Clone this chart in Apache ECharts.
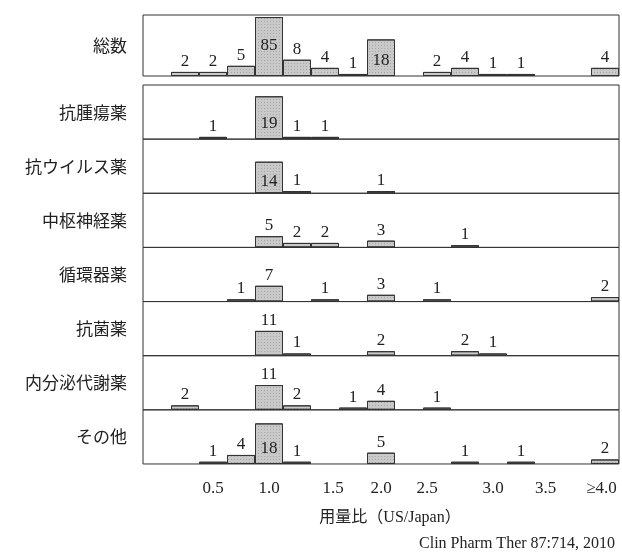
<!DOCTYPE html>
<html>
<head>
<meta charset="utf-8">
<script src="https://cdn.jsdelivr.net/npm/echarts@6/dist/echarts.min.js"></script>
<style>
  html, body { margin: 0; padding: 0; background: #fff; }
  #main { width: 622px; height: 554px; }
</style>
</head>
<body>
<div id="main"></div>
<script>
// bins of 0.25 along the ratio US/Japan, last bin is >=4.0
var bins = ['b0','b1','b2','b3','b4','b5','b6','b7','b8','b9','b10','b11','b12','b13','b14','b15','b16'];
var tickLabels = ['', '', '0.5', '', '1.0', '', '1.5', '', '2.0', '', '2.5', '', '3.0', '', '3.5', '', '≥4.0'];

var panelNames = ['総数', '抗腫瘍薬', '抗ウイルス薬', '中枢神経薬', '循環器薬', '抗菌薬', '内分泌代謝薬', 'その他'];

var total      = [0, 2, 2, 5, 85, 8, 4, 1, 18, 0, 2, 4, 1, 1, 0, 0, 4];
var antitumor  = [0, 0, 1, 0, 19, 1, 1, 0, 0, 0, 0, 0, 0, 0, 0, 0, 0];
var antiviral  = [0, 0, 0, 0, 14, 1, 0, 0, 1, 0, 0, 0, 0, 0, 0, 0, 0];
var cns        = [0, 0, 0, 0, 5, 2, 2, 0, 3, 0, 0, 1, 0, 0, 0, 0, 0];
var cardio     = [0, 0, 0, 1, 7, 0, 1, 0, 3, 0, 1, 0, 0, 0, 0, 0, 2];
var antibac    = [0, 0, 0, 0, 11, 1, 0, 0, 2, 0, 0, 2, 1, 0, 0, 0, 0];
var endocrine  = [0, 2, 0, 0, 11, 2, 0, 1, 4, 0, 1, 0, 0, 0, 0, 0, 0];
var others     = [0, 0, 1, 4, 18, 1, 0, 0, 5, 0, 0, 1, 0, 1, 0, 0, 2];

var panels = [total, antitumor, antiviral, cns, cardio, antibac, endocrine, others];

var serif = "'Liberation Serif', 'Noto Sans CJK JP', serif";
var sans = "'Noto Sans CJK JP', sans-serif";

var left = 143, width = 476;
var grids = [], xAxes = [], yAxes = [], series = [], titles = [];

panels.forEach(function (vals, i) {
    var top, h;
    if (i === 0) { top = 15; h = 61; }
    else { h = 54.14; top = 85 + (i - 1) * h; }
    grids.push({
        left: left, width: width, top: top, height: h,
        show: true, borderColor: '#333', borderWidth: 1, backgroundColor: 'transparent'
    });
    var last = i === panels.length - 1;
    xAxes.push({
        type: 'category', gridIndex: i, data: bins,
        axisLine: { show: false }, axisTick: { show: false }, splitLine: { show: false },
        axisLabel: {
            show: last, interval: 0, margin: 16,
            fontFamily: serif, fontSize: 17, color: '#222',
            formatter: function (v, idx) {
                var t = tickLabels[idx];
                if (!t) return '';
                if (t === '1.5') return '{r|' + t + '}';
                if (t === '2.5') return '{l|' + t + '}';
                if (t === '3.5' || t === '≥4.0') return '{s|' + t + '}';
                return t;
            },
            rich: {
                r: { fontFamily: serif, fontSize: 17, color: '#222', padding: [0, 0, 0, 16] },
                l: { fontFamily: serif, fontSize: 17, color: '#222', padding: [0, 20, 0, 0] },
                s: { fontFamily: serif, fontSize: 17, color: '#222', padding: [0, 7, 0, 0] }
            }
        },
        name: last ? '用量比（US/Japan）' : '',
        nameLocation: 'middle', nameGap: 46,
        nameTextStyle: { fontFamily: serif, fontSize: 16, color: '#222', padding: [0, 0, 0, 18] }
    });
    var y = { type: 'value', gridIndex: i, show: false, min: 0, max: 24, splitLine: { show: false } };
    if (i === 0) {
        y.max = 86;
        y.breaks = [{ start: 24, end: 80, gap: 0 }];
        y.breakArea = { show: false };
    }
    yAxes.push(y);

    series.push({
        type: 'bar', xAxisIndex: i, yAxisIndex: i,
        barCategoryGap: '0%',
        itemStyle: {
            color: '#c9c9c9', borderColor: '#333', borderWidth: 1,
            decal: { symbol: 'rect', symbolSize: 1, color: 'rgba(80,80,80,0.28)', dashArrayX: [1, 2], dashArrayY: [1, 2] }
        },
        label: {
            show: true, position: 'top', distance: 2,
            fontFamily: serif, fontSize: 17, color: '#222'
        },
        data: vals.map(function (v) {
            if (!v) return '-';
            if (v >= 14) {
                return { value: v, label: { position: 'insideBottom', distance: v > 50 ? 22 : (v < 15 ? 3 : 7) } };
            }
            return v;
        })
    });

    titles.push({
        text: panelNames[i], right: 495, top: top + h / 2 - 11, padding: 0,
        textStyle: { fontFamily: sans, fontSize: 17, fontWeight: 'normal', color: '#222', lineHeight: 22 }
    });
});

titles.push({
    text: 'Clin Pharm Ther 87:714, 2010', right: 2, top: 531,
    textStyle: { fontFamily: serif, fontSize: 16, fontWeight: 'normal', color: '#222' }
});

var myChart = echarts.init(document.getElementById('main'));
var option = {
    animation: false,
    title: titles,
    grid: grids,
    xAxis: xAxes,
    yAxis: yAxes,
    series: series
};
myChart.setOption(option);
</script>
</body>
</html>
